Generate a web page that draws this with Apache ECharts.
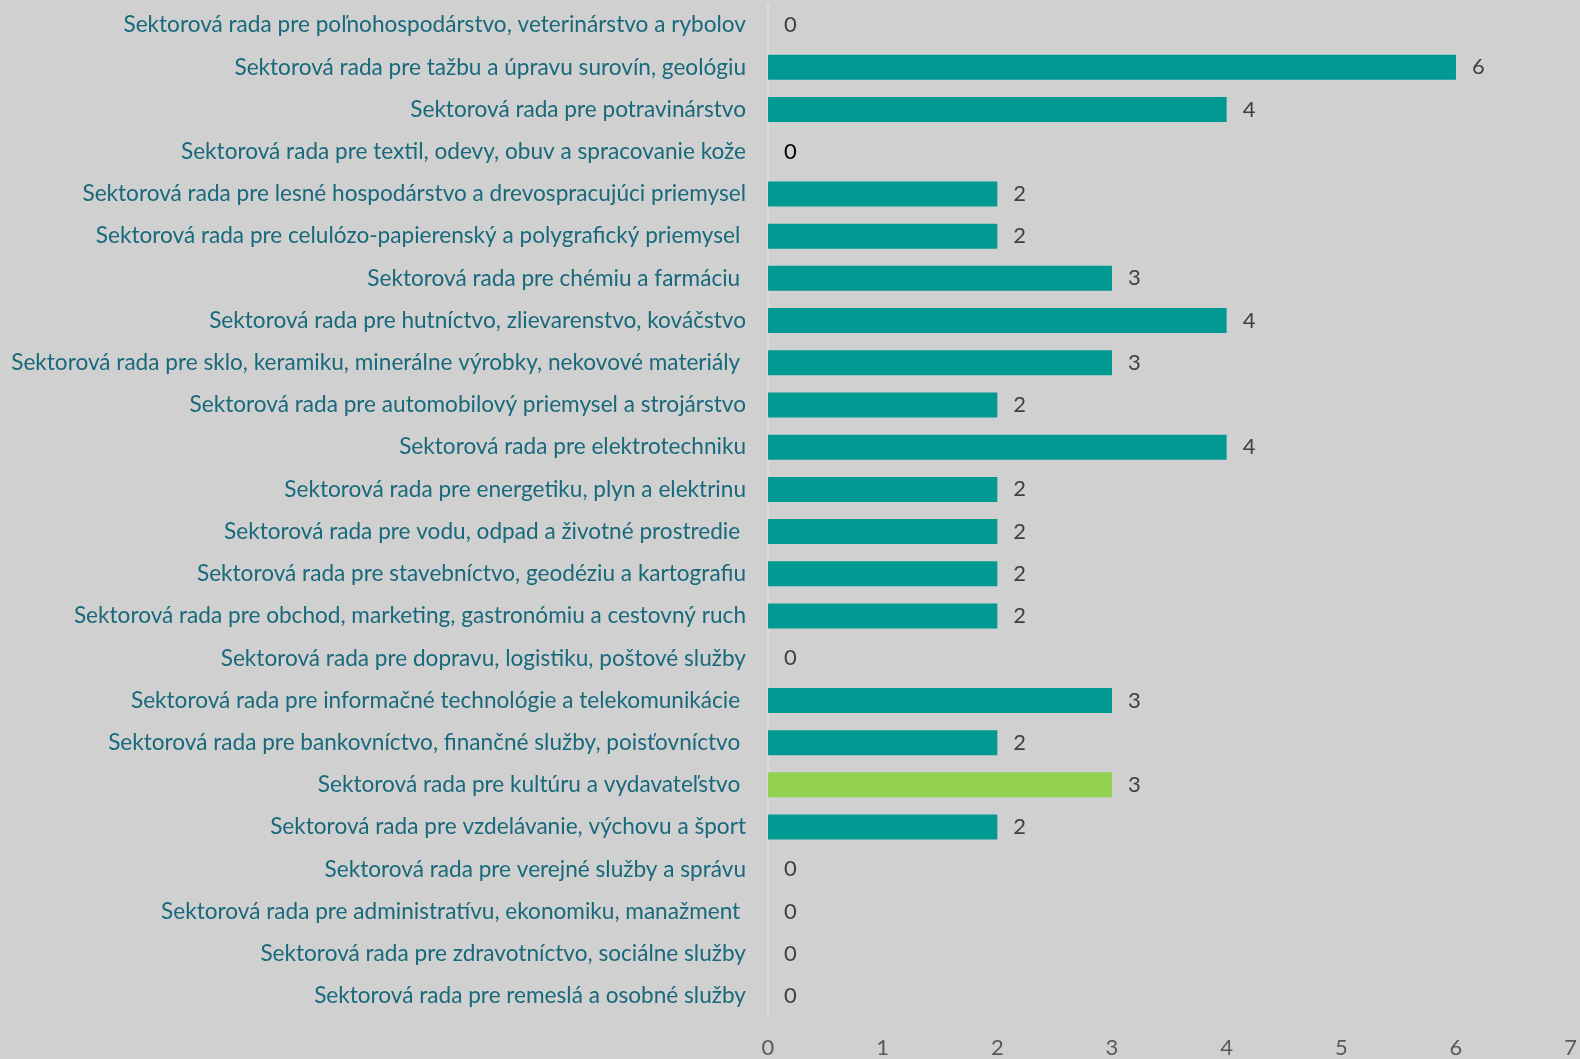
<!DOCTYPE html>
<html><head><meta charset="utf-8">
<script src="https://cdn.jsdelivr.net/npm/echarts@6/dist/echarts.min.js"></script>
<style>html,body{margin:0;padding:0;background:#D0D0D0}#c{width:1580px;height:1059px}</style>
</head><body><div id="c"></div>
<script>
const categories = [
"Sektorová rada pre poľnohospodárstvo, veterinárstvo a rybolov",
"Sektorová rada pre tažbu a úpravu surovín, geológiu",
"Sektorová rada pre potravinárstvo",
"Sektorová rada pre textil, odevy, obuv a spracovanie kože",
"Sektorová rada pre lesné hospodárstvo a drevospracujúci priemysel",
"Sektorová rada pre celulózo-papierenský a polygrafický priemysel ",
"Sektorová rada pre chémiu a farmáciu ",
"Sektorová rada pre hutníctvo, zlievarenstvo, kováčstvo",
"Sektorová rada pre sklo, keramiku, minerálne výrobky, nekovové materiály ",
"Sektorová rada pre automobilový priemysel a strojárstvo",
"Sektorová rada pre elektrotechniku",
"Sektorová rada pre energetiku, plyn a elektrinu",
"Sektorová rada pre vodu, odpad a životné prostredie ",
"Sektorová rada pre stavebníctvo, geodéziu a kartografiu",
"Sektorová rada pre obchod, marketing, gastronómiu a cestovný ruch",
"Sektorová rada pre dopravu, logistiku, poštové služby",
"Sektorová rada pre informačné technológie a telekomunikácie ",
"Sektorová rada pre bankovníctvo, finančné služby, poisťovníctvo ",
"Sektorová rada pre kultúru a vydavateľstvo ",
"Sektorová rada pre vzdelávanie, výchovu a šport",
"Sektorová rada pre verejné služby a správu",
"Sektorová rada pre administratívu, ekonomiku, manažment ",
"Sektorová rada pre zdravotníctvo, sociálne služby",
"Sektorová rada pre remeslá a osobné služby"
];
const values = [0,6,4,0,2,2,3,4,3,2,4,2,2,2,2,0,3,2,3,2,0,0,0,0];
const highlightIndex = 18;   // green bar
const blackLabelIndex = 3;   // label drawn in black
const xTicks = [0,1,2,3,4,5,6,7];

const FONT = 'Lato';
const data = values.map((v,i)=>{
  const d = {value:v};
  if(i===highlightIndex) d.itemStyle = {color:'#92D050'};
  if(i===blackLabelIndex) d.label = {color:'#000000'};
  return d;
});
const chart = echarts.init(document.getElementById('c'));
chart.setOption({
  backgroundColor:'#D0D0D0',
  animation:false,
  grid:{left:768, right:7, top:4, bottom:36, containLabel:false},
  xAxis:{type:'value', min:xTicks[0], max:xTicks[xTicks.length-1], interval:1,
    axisLine:{show:false}, axisTick:{show:false}, splitLine:{show:false},
    axisLabel:{color:'#595959', fontFamily:FONT, fontSize:22, margin:20}},
  yAxis:{type:'category', data:categories, inverse:true,
    axisLine:{show:true, lineStyle:{color:'#DCDCDC', width:2}}, axisTick:{show:false},
    axisLabel:{color:'#17697B', fontFamily:FONT, fontSize:22.6, margin:22}},
  series:[{type:'bar', data:data, barWidth:25,
    itemStyle:{color:'#009A93'},
    label:{show:true, position:'right', distance:16, color:'#404040', fontFamily:FONT, fontSize:22}}]
});
</script></body></html>
